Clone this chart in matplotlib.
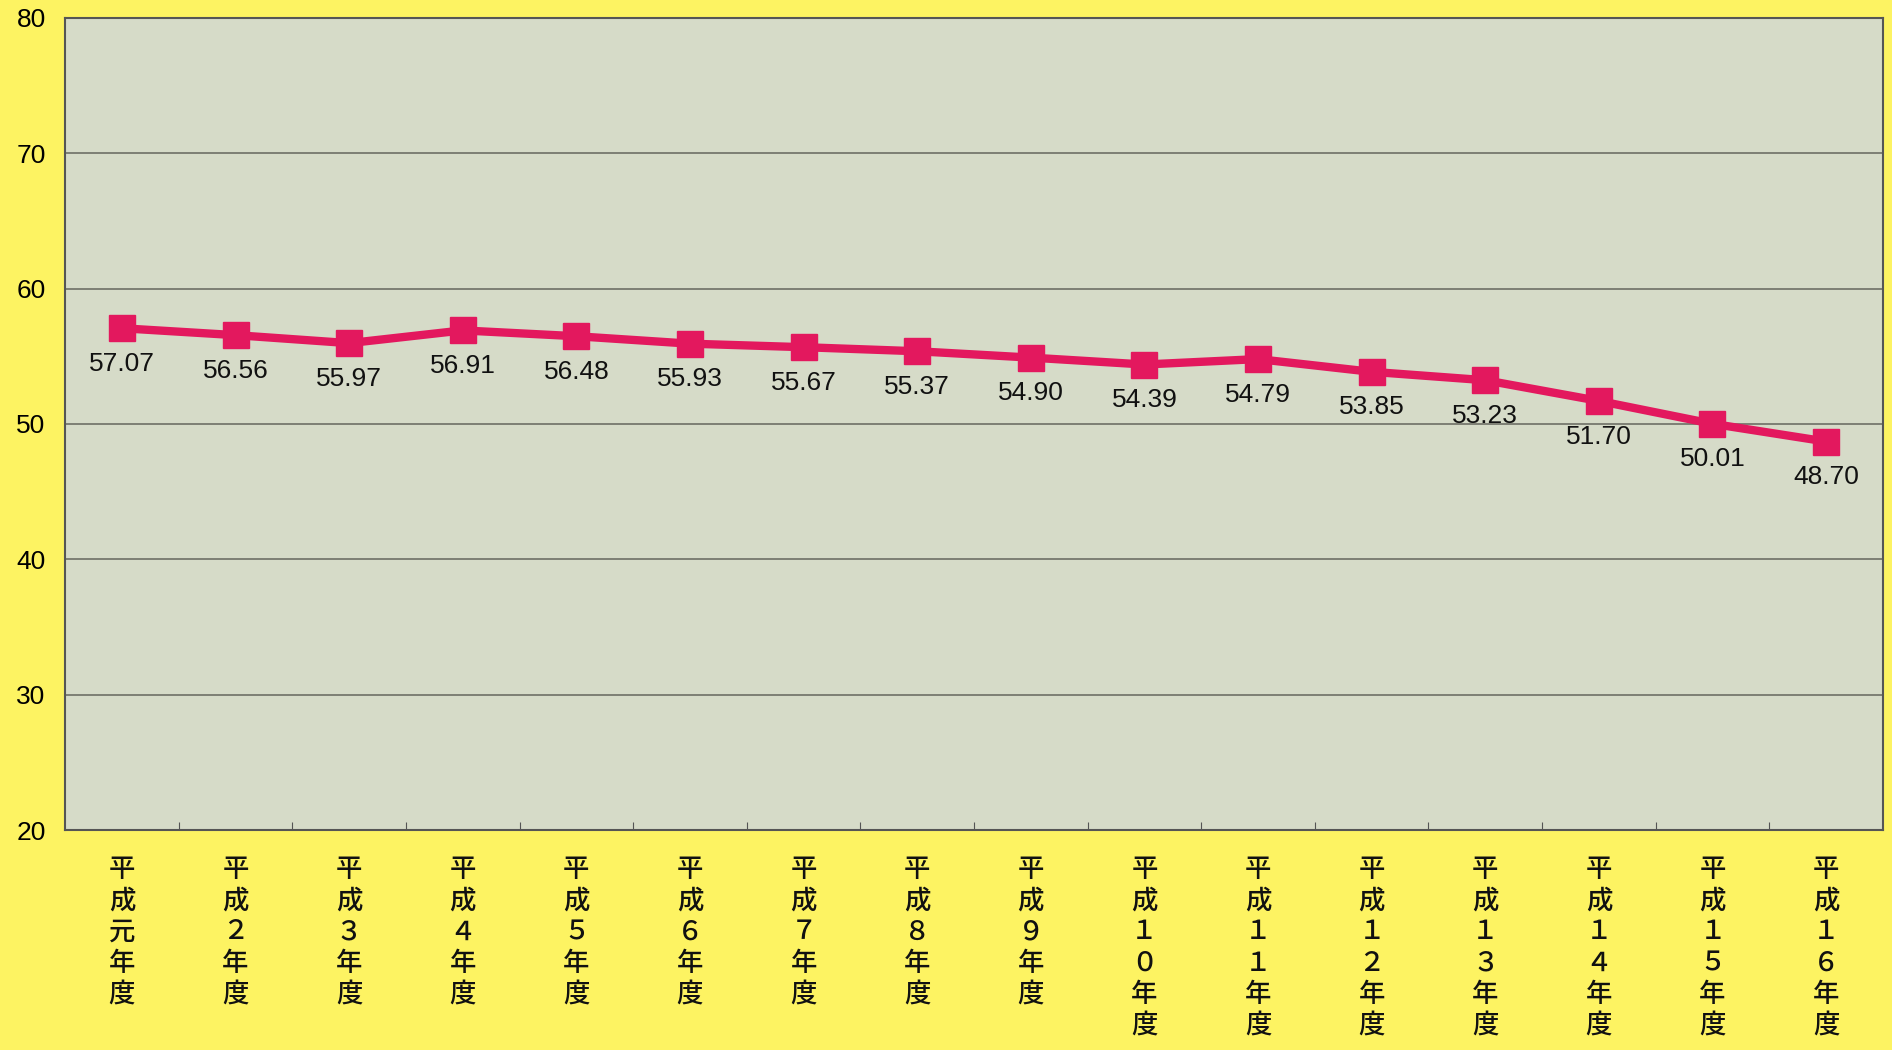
import matplotlib.pyplot as plt

plt.rcParams['font.family'] = ['Noto Sans CJK JP', 'DejaVu Sans']

years = ['元', '２', '３', '４', '５', '６', '７', '８', '９',
         '１０', '１１', '１２', '１３', '１４', '１５', '１６']
values = [57.07, 56.56, 55.97, 56.91, 56.48, 55.93, 55.67, 55.37, 54.90,
          54.39, 54.79, 53.85, 53.23, 51.70, 50.01, 48.70]

labels = ['\n'.join('平成' + y + '年度') for y in years]
x = list(range(len(values)))

fig = plt.figure(figsize=(18.92, 10.5), dpi=100, facecolor='#fdf362')
ax = fig.add_axes([0.0344, 0.2095, 0.9608, 0.7735])
ax.set_facecolor('#d6dbc8')

ax.plot(x, values, color='#e3185e', linewidth=6, marker='s', markersize=19,
        zorder=3)
for xi, v in zip(x, values):
    ax.annotate(f'{v:.2f}', (xi, v), xytext=(0, -17), textcoords='offset points',
                ha='center', va='top', fontsize=19, family='Liberation Sans',
                color='#111111', zorder=4)

ax.set_xlim(-0.5, len(values) - 0.5)
ax.set_ylim(20, 80)
ax.set_yticks(range(20, 81, 10))
ax.yaxis.grid(True, color='#6e7066', linewidth=1.2)
ax.set_axisbelow(True)
ax.tick_params(axis='y', length=0, labelsize=19, pad=14)
for t in ax.get_yticklabels():
    t.set_family('Liberation Sans')

# category boundaries ticks
ax.set_xticks([i + 0.5 for i in x[:-1]])
ax.set_xticklabels([])
ax.tick_params(axis='x', direction='in', length=6, color='#555555')
for xi, lab in zip(x, labels):
    ax.text(xi, -0.032, lab, transform=ax.get_xaxis_transform(), ha='center',
            va='top', fontsize=19, fontweight='medium', linespacing=1.2,
            color='#111111')

for s in ax.spines.values():
    s.set_color('#555555')
    s.set_linewidth(1.5)

fig.savefig('out.png', dpi=100, facecolor=fig.get_facecolor())
